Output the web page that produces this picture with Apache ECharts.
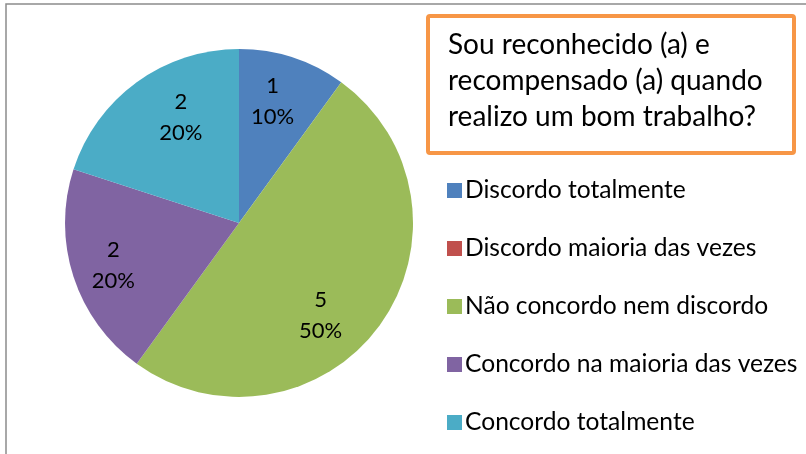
<!DOCTYPE html>
<html>
<head>
<meta charset="utf-8">
<script src="https://cdn.jsdelivr.net/npm/echarts@6/dist/echarts.min.js"></script>
<style>
html,body{margin:0;padding:0;background:#fff;}
#main{width:806px;height:454px;}
</style>
</head>
<body>
<div id="main"></div>
<script>
// respostas
var categories = ['Discordo totalmente', 'Discordo maioria das vezes', 'Não concordo nem discordo', 'Concordo na maioria das vezes', 'Concordo totalmente'];
var counts = [1, 0, 5, 2, 2];
var colors = ['#4F81BD', '#C0504D', '#9BBB59', '#8064A2', '#4BACC6'];
var titleText = 'Sou reconhecido (a) e\nrecompensado (a) quando\nrealizo um bom trabalho?';

// ajuste fino dos rótulos (o Excel não os põe exatamente na bissetriz)
var labelNudge = [[-6, 0], [0, 0], [-22, 17], [-4, 3], [17, -2]];

var FONT = 'Lato';

var pieData = [];
var labelData = [];
for (var i = 0; i < categories.length; i++) {
    pieData.push({name: categories[i], value: counts[i]});
    labelData.push({name: categories[i], value: counts[i], label: {offset: labelNudge[i]}});
}

var chart = echarts.init(document.getElementById('main'));

chart.setOption({
    animation: false,
    color: colors,
    title: {
        text: titleText,
        left: 448,
        top: 27,
        padding: 0,
        textStyle: {fontFamily: FONT, fontSize: 28, fontWeight: 'normal', color: '#000', lineHeight: 36}
    },
    legend: {
        orient: 'vertical',
        left: 442,
        top: 173,
        itemWidth: 15,
        itemHeight: 15,
        itemGap: 33,
        icon: 'rect',
        textStyle: {fontFamily: FONT, fontSize: 24.6, lineHeight: 25, color: '#000', padding: [0, 0, 0, -2]},
        data: categories
    },
    graphic: [
        {type: 'rect', shape: {x: 6, y: 4, width: 830, height: 480}, style: {fill: null, stroke: '#8c8c8c', lineWidth: 1.5}, z: -1},
        {type: 'rect', shape: {x: 428, y: 16, width: 366, height: 137, r: 2}, style: {fill: '#fff', stroke: '#F79646', lineWidth: 4}, z: -1}
    ],
    series: [
        {
            type: 'pie',
            center: [239, 223],
            radius: [0, 174],
            startAngle: 90,
            clockwise: true,
            silent: true,
            label: {show: false},
            labelLine: {show: false},
            data: pieData
        },
        {
            // só para posicionar os rótulos mais perto da borda
            type: 'pie',
            center: [239, 223],
            radius: [76, 174],
            startAngle: 90,
            clockwise: true,
            silent: true,
            itemStyle: {color: 'transparent'},
            label: {
                show: true,
                position: 'inside',
                fontFamily: FONT,
                fontSize: 22,
                lineHeight: 31,
                color: '#000',
                formatter: function (p) {
                    if (!p.value) return '';
                    return p.value + '\n' + Math.round(p.percent) + '%';
                }
            },
            labelLine: {show: false},
            data: labelData
        }
    ]
});
</script>
</body>
</html>
